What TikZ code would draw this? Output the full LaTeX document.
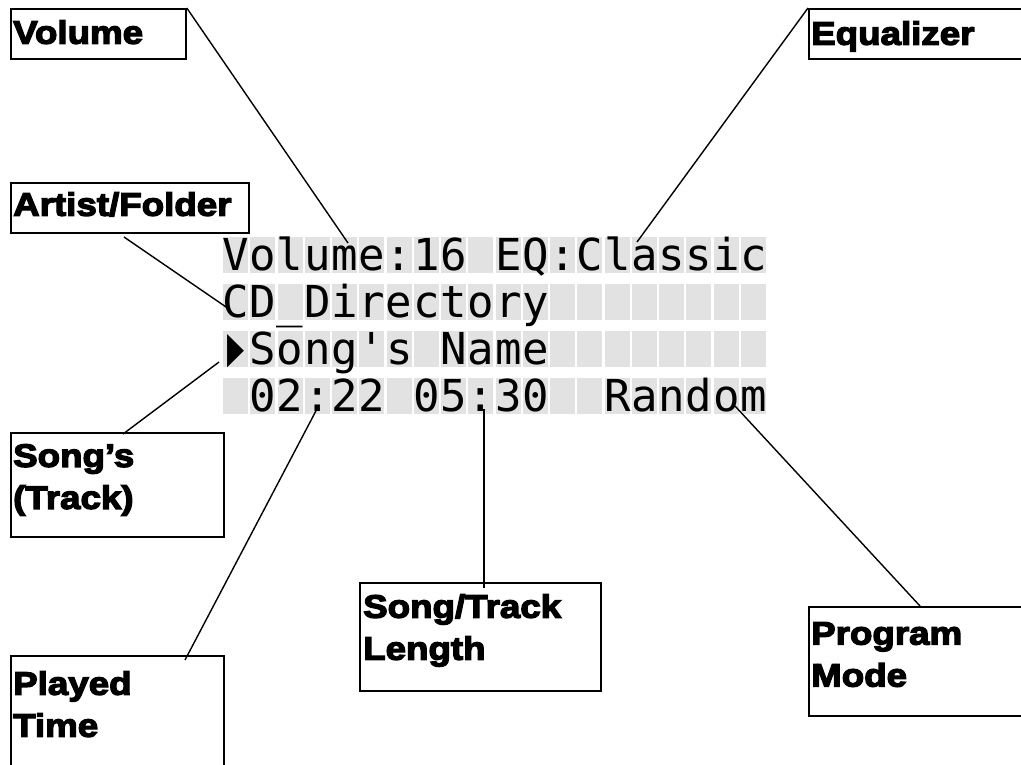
\documentclass[tikz,border=0pt]{standalone}
\usepackage{fontspec}
\usepackage{graphicx}
\newfontfamily\labfont{Liberation Sans}[BoldFeatures={FakeBold=4,FakeStretch=1.13}]
\newfontfamily\lcdfont{DejaVu Sans Mono}
\newfontfamily\symfont{DejaVu Sans}
\newcommand\Ch[1]{\makebox[27.26pt][c]{#1}}
\definecolor{cellgray}{gray}{0.885}
\tikzset{
  box/.style={draw=black, line width=1.8pt, rectangle, inner sep=0pt, anchor=north west},
  lab/.style={anchor=north west, inner sep=0pt, align=left,
    font=\labfont\bfseries\fontsize{32.5}{42}\selectfont},
  lcdtext/.style={anchor=base west, inner sep=0pt,
    font=\lcdfont\fontsize{44}{44}\selectfont},
  conn/.style={draw=black, line width=1.4pt},
}
\begin{document}
\begin{tikzpicture}[x=1pt,y=-1pt]
\useasboundingbox (0,0) rectangle (1021,764);
\fill[white] (0,0) rectangle (1021,764);

% LCD cells
\foreach \r in {0,...,3}{
  \foreach \c in {0,...,19}{
    \fill[cellgray] ({223+\c*27.26},{237+\r*47}) rectangle ++(25,36);
  }
}

% LCD text
\node[lcdtext] (row1) at (221.9,270) {\Ch{V}\Ch{o}\Ch{l}\Ch{u}\Ch{m}\Ch{e}\Ch{:}\Ch{1}\Ch{6}\Ch{ }\Ch{E}\Ch{Q}\Ch{:}\Ch{C}\Ch{l}\Ch{a}\Ch{s}\Ch{s}\Ch{i}\Ch{c}};
\node[lcdtext] (row2) at (221.9,317) {\Ch{C}\Ch{D}\Ch{\_}\Ch{D}\Ch{i}\Ch{r}\Ch{e}\Ch{c}\Ch{t}\Ch{o}\Ch{r}\Ch{y}};
\node[lcdtext] (row3) at (221.9,364) {\Ch{\raisebox{2pt}{\resizebox{17pt}{28pt}{\symfont ▶}}}\Ch{S}\Ch{o}\Ch{n}\Ch{g}\Ch{'}\Ch{s}\Ch{ }\Ch{N}\Ch{a}\Ch{m}\Ch{e}};
\node[lcdtext] (row4) at (221.9,411) {\Ch{ }\Ch{0}\Ch{2}\Ch{:}\Ch{2}\Ch{2}\Ch{ }\Ch{0}\Ch{5}\Ch{:}\Ch{3}\Ch{0}\Ch{ }\Ch{ }\Ch{R}\Ch{a}\Ch{n}\Ch{d}\Ch{o}\Ch{m}};

% Label boxes
\node[box, minimum width=175, minimum height=50] (vol) at (10,8) {};
\node[box, minimum width=235, minimum height=50] (eq) at (808,8) {};
\node[box, minimum width=238, minimum height=50] (art) at (10,182) {};
\node[box, minimum width=213, minimum height=104] (song) at (10,432) {};
\node[box, minimum width=213, minimum height=140] (played) at (10,655) {};
\node[box, minimum width=241, minimum height=108] (len) at (359,582) {};
\node[box, minimum width=235, minimum height=109] (prog) at (808,606) {};

% Label texts
\node[lab] (volT) at (13,20) {Volume};
\node[lab] (eqT) at (811,21) {Equalizer};
\node[lab] (artT) at (13,192) {Artist/Folder};
\node[lab] (songT) at (13,444) {Song’s\\(Track)};
\node[lab] (playedT) at (13,671) {Played\\Time};
\node[lab] (lenT) at (363,594) {Song/Track\\Length};
\node[lab] (progT) at (811,622) {Program\\Mode};

% Connector end points
\coordinate (pVol) at (348,243);
\coordinate (pEq) at (637,242);
\coordinate (aStart) at (124,237);
\coordinate (pArt) at (229,309);
\coordinate (sStart) at (123,434);
\coordinate (pSong) at (219,362);
\coordinate (plStart) at (185,660);
\coordinate (pPlayed) at (318,407);
\coordinate (lStart) at (484,588);
\coordinate (pLen) at (484,409);
\coordinate (prStart) at (920,606);
\coordinate (pProg) at (735,406);

% Connectors
\draw[conn] (vol.north east) -- (pVol);
\draw[conn] (eq.north west) -- (pEq);
\draw[conn] (aStart) -- (pArt);
\draw[conn] (sStart) -- (pSong);
\draw[conn] (plStart) -- (pPlayed);
\draw[conn] (lStart) -- (pLen);
\draw[conn] (prStart) -- (pProg);
\end{tikzpicture}
\end{document}
